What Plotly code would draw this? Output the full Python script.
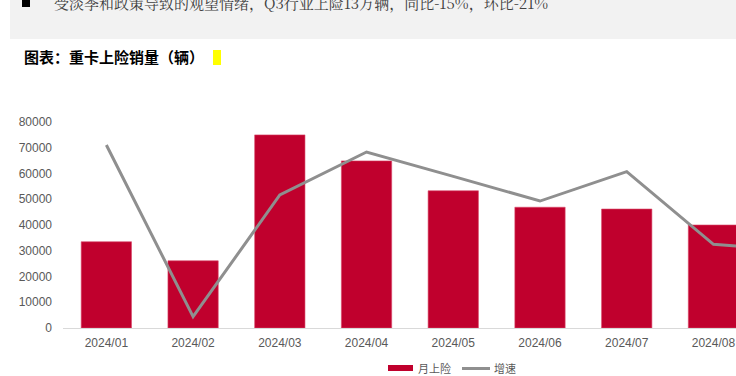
import plotly.graph_objects as go

months = ["2024/01", "2024/02", "2024/03", "2024/04", "2024/05", "2024/06",
          "2024/07", "2024/08", "2024/09"]
monthly_reg = [33500, 26100, 75000, 64900, 53300, 46900, 46200, 40000, 43800]
growth_pct = [62.1, -71.2, 23.3, 56.7, 37.8, 18.6, 41.4, -15.0, -19.7]
y_ticks = [0, 10000, 20000, 30000, 40000, 50000, 60000, 70000, 80000]

header_text = "受淡季和政策导致的观望情绪，Q3行业上险13万辆，同比-15%，环比-21%"
title_text = "图表：重卡上险销量（辆）"
legend_names = ["月上险", "增速"]

RED = "#C0002D"
GREY = "#8F8F8F"
TICK = "#595959"

W, H = 736, 376
L, T, PW, PH = 63, 122, 673, 206


def px(x):
    return (x - L) / PW


def py(y):
    return (T + PH - y) / PH


fig = go.Figure()
fig.add_trace(go.Bar(x=months, y=monthly_reg, name=legend_names[0],
                     marker=dict(color=RED, line=dict(width=0.6, color="#D9486A")),
                     showlegend=False))
fig.add_trace(go.Scatter(x=months, y=growth_pct, name=legend_names[1], yaxis="y2",
                         mode="lines", line=dict(color=GREY, width=3),
                         showlegend=False))

shapes = [
    dict(type="rect", xref="paper", yref="paper", x0=px(10), x1=1.02, y0=py(39), y1=py(-5),
         fillcolor="#F2F2F2", line=dict(width=0), layer="below"),
    dict(type="rect", xref="paper", yref="paper", x0=px(22), x1=px(30), y0=py(7), y1=py(-3),
         fillcolor="#000000", line=dict(width=0)),
    dict(type="rect", xref="paper", yref="paper", x0=px(213), x1=px(221), y0=py(65), y1=py(50),
         fillcolor="#FFFF00", line=dict(width=0)),
    dict(type="rect", xref="paper", yref="paper", x0=px(388), x1=px(413), y0=py(371), y1=py(365),
         fillcolor=RED, line=dict(width=0)),
    dict(type="line", xref="paper", yref="paper", x0=px(462), x1=px(490), y0=py(368.5), y1=py(368.5),
         line=dict(color=GREY, width=3)),
]

annotations = [
    dict(text=header_text, xref="paper", yref="paper", x=px(52), y=py(2), xanchor="left",
         yanchor="middle", showarrow=False,
         font=dict(family="Noto Serif CJK SC, Noto Sans CJK SC", size=15, color="#404040")),
    dict(text="<b>" + title_text + "</b>", xref="paper", yref="paper", x=px(22), y=py(57),
         xanchor="left", yanchor="middle", showarrow=False,
         font=dict(family="Noto Sans CJK SC", size=15, color="#000000")),
    dict(text=legend_names[0], xref="paper", yref="paper", x=px(416), y=py(368), xanchor="left",
         yanchor="middle", showarrow=False,
         font=dict(family="Noto Sans CJK SC", size=11, color=TICK)),
    dict(text=legend_names[1], xref="paper", yref="paper", x=px(492), y=py(368), xanchor="left",
         yanchor="middle", showarrow=False,
         font=dict(family="Noto Sans CJK SC", size=11, color=TICK)),
]

fig.update_layout(
    width=W, height=H,
    margin=dict(l=L, r=W - L - PW, t=T, b=H - T - PH),
    paper_bgcolor="white", plot_bgcolor="white",
    bargap=0.42,
    showlegend=False,
    shapes=shapes,
    annotations=annotations,
    xaxis=dict(type="category", range=[-0.5, 7.26], showgrid=False, showline=True,
               linecolor="#D9D9D9", linewidth=1, ticks="", ticklen=0, ticklabelstandoff=4,
               tickfont=dict(family="Liberation Sans Narrow, Arial Narrow, Liberation Sans, sans-serif",
                             size=12, color=TICK)),
    yaxis=dict(range=[0, 80000], tickvals=y_ticks, tickformat="d", showgrid=False, zeroline=False,
               showline=False, ticks="", ticklabelstandoff=10,
               tickfont=dict(family="Liberation Sans, Arial, sans-serif", size=12, color=TICK)),
    yaxis2=dict(range=[-80, 80], overlaying="y", side="right", visible=False,
                showgrid=False, zeroline=False),
)

fig.write_html("out.html", config={"displayModeBar": False},
               post_script="document.body.style.margin='0';document.body.style.overflow='hidden';")
